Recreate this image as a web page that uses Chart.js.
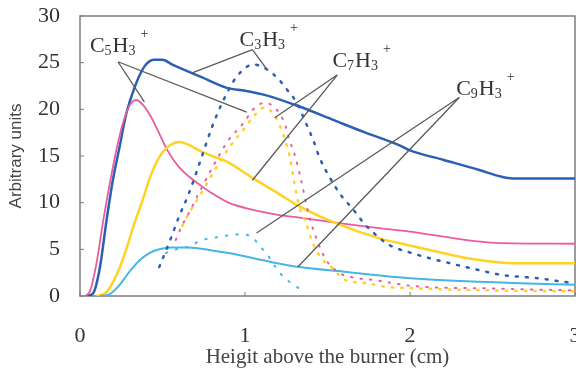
<!DOCTYPE html>
<html>
<head>
<meta charset="utf-8">
<script src="https://cdn.jsdelivr.net/npm/chart.js@4"></script>
<style>
  html, body { margin: 0; padding: 0; background: #fff; }
  #wrap { width: 576px; height: 376px; }
</style>
</head>
<body>
<div id="wrap"><canvas id="chart"></canvas></div>
<script>
// Ion signal vs height above burner, [x (cm), y (arb. units)]
const c5Solid = [
  [0.04, 0], [0.08, 0.3], [0.12, 3], [0.16, 8], [0.2, 12.5], [0.24, 16], [0.28, 19.5],
  [0.32, 21.8], [0.36, 23.6], [0.4, 24.8], [0.45, 25.3], [0.5, 25.3], [0.56, 24.8],
  [0.65, 24.1], [0.73, 23.5], [0.89, 22.3], [1.0, 22], [1.13, 21.5], [1.33, 20.3],
  [1.53, 18.9], [1.73, 17.5], [1.93, 16.2], [2.0, 15.6], [2.2, 14.6], [2.42, 13.5],
  [2.55, 12.8], [2.62, 12.6], [3.0, 12.6],
];
const pinkSolid = [
  [0.03, 0], [0.06, 0.5], [0.1, 3.5], [0.14, 8], [0.18, 12], [0.22, 15.6], [0.26, 18.5],
  [0.3, 20.4], [0.34, 21], [0.38, 20.5], [0.43, 19.2], [0.47, 17.8], [0.53, 15.6],
  [0.6, 13.8], [0.66, 12.8], [0.72, 12], [0.8, 11], [0.9, 10], [1.03, 9.3], [1.2, 8.7],
  [1.33, 8.4], [1.57, 7.8], [1.8, 7.3], [2.0, 6.9], [2.3, 6.1], [2.52, 5.7], [3.0, 5.6],
];
const yellowSolid = [
  [0.1, 0], [0.16, 0.4], [0.2, 1.5], [0.24, 3], [0.28, 5], [0.33, 7.8], [0.38, 10.3],
  [0.42, 12.5], [0.46, 14.2], [0.5, 15.4], [0.55, 16.2], [0.6, 16.5], [0.66, 16.2],
  [0.72, 15.6], [0.8, 15], [0.89, 14.4], [1.05, 12.6], [1.2, 11], [1.33, 9.6],
  [1.55, 7.8], [1.81, 6.2], [2.0, 5.4], [2.2, 4.6], [2.4, 3.9], [2.62, 3.5], [3.0, 3.5],
];
const cyanSolid = [
  [0.12, 0], [0.18, 0.2], [0.24, 1.2], [0.3, 2.6], [0.36, 3.8], [0.42, 4.6], [0.48, 5.0],
  [0.55, 5.2], [0.65, 5.2], [0.72, 5.1], [0.9, 4.6], [1.17, 3.6], [1.33, 3.1], [1.6, 2.6],
  [1.93, 2.0], [2.0, 1.9], [2.3, 1.6], [2.62, 1.4], [3.0, 1.2],
];
const blueDotted = [
  [0.48, 3.1], [0.54, 5.7], [0.6, 8.5], [0.66, 11], [0.73, 14.5], [0.8, 18.1], [0.87, 21],
  [0.95, 23.5], [1.05, 24.8], [1.14, 24.2], [1.21, 23.1], [1.26, 22], [1.31, 20.8],
  [1.37, 18.5], [1.42, 16.4], [1.45, 14.9], [1.51, 12.8], [1.59, 10.6], [1.65, 9.4],
  [1.73, 7.6], [1.81, 6.3], [1.87, 5.5], [2.01, 4.6], [2.11, 4.1], [2.34, 3.1],
  [2.56, 2.25], [2.78, 1.9], [2.94, 1.5], [3.0, 1.4],
];
const pinkDotted = [
  [0.58, 6], [0.62, 7.6], [0.66, 8.9], [0.72, 11], [0.8, 13.7], [0.9, 16.7], [0.99, 18.5],
  [1.05, 20], [1.12, 20.7], [1.19, 20], [1.24, 18.5], [1.27, 16.7], [1.31, 14.6],
  [1.34, 12.4], [1.39, 8.5], [1.43, 6.3], [1.49, 3.9], [1.57, 2.5], [1.65, 2], [1.79, 1.7],
  [2.0, 1.1], [2.5, 0.8], [3.0, 0.6],
];
const yellowDotted = [
  [0.62, 7.5], [0.66, 8.9], [0.7, 10], [0.8, 13], [0.9, 15.8], [0.99, 17.8], [1.06, 19.4],
  [1.12, 20.2], [1.18, 19.3], [1.23, 17.4], [1.27, 15], [1.3, 12], [1.33, 9.5],
  [1.37, 7.8], [1.41, 5.7], [1.47, 3.9], [1.53, 3], [1.61, 1.7], [1.73, 1.4], [1.85, 1.0],
  [2.0, 0.85], [2.5, 0.6], [3.0, 0.5],
];
const cyanDotted = [
  [0.52, 4.6], [0.6, 5.1], [0.66, 5.3], [0.74, 6], [0.8, 6.2], [0.9, 6.5], [0.99, 6.6],
  [1.05, 6.2], [1.09, 5.3], [1.13, 4.6], [1.17, 3.5], [1.21, 2.5], [1.27, 1.5],
  [1.32, 0.9], [1.36, 0.3],
];

const xTicks = [0, 1, 2, 3];
const yTicks = [0, 5, 10, 15, 20, 25, 30];

// label text anchor (data units) and leader line targets
const labels = [
  { n: "5", at: [0.06, 26.1], hub: [0.23, 25.1], to: [[0.39, 20.8], [1.01, 19.7]] },
  { n: "3", at: [0.967, 26.8], hub: [1.045, 26.4], to: [[0.68, 23.9], [1.136, 24.2]] },
  { n: "7", at: [1.53, 24.5], hub: [1.56, 23.7], to: [[1.18, 19.1], [1.045, 12.4]] },
  { n: "9", at: [2.28, 21.5], hub: [2.3, 21.3], to: [[1.07, 6.75], [1.32, 3.1]] },
];

const BLUE = "#2b5fb4";
const PINK = "#ea5c9e";
const YELLOW = "#ffd224";
const CYAN = "#45b6e6";

function pts(arr) {
  return arr.map((p) => ({ x: p[0], y: p[1] }));
}

function line(data, color, width, dash) {
  return {
    data: pts(data),
    borderColor: color,
    borderWidth: width,
    borderDash: dash || [],
    borderCapStyle: dash ? "round" : "butt",
    pointRadius: 0,
    fill: false,
    cubicInterpolationMode: "monotone",
  };
}

const framePlugin = {
  id: "frame",
  beforeDatasetsDraw(chart) {
    const { ctx, chartArea: a, scales } = chart;
    ctx.save();
    ctx.strokeStyle = "#7c7c7c";
    ctx.lineWidth = 1.5;
    ctx.strokeRect(a.left, a.top, a.right - a.left, a.bottom - a.top);
    ctx.lineWidth = 1;
    ctx.beginPath();
    yTicks.forEach((v) => {
      const py = scales.y.getPixelForValue(v);
      ctx.moveTo(a.left, py);
      ctx.lineTo(a.left + 4, py);
    });
    xTicks.forEach((v) => {
      const px = scales.x.getPixelForValue(v);
      ctx.moveTo(px, a.bottom);
      ctx.lineTo(px, a.bottom - 4);
    });
    ctx.stroke();
    ctx.restore();
  },
};

function drawFormula(ctx, x, y, n) {
  const big = "22px 'Liberation Serif', serif";
  const small = "14px 'Liberation Serif', serif";
  ctx.fillStyle = "#333";
  ctx.textBaseline = "alphabetic";
  ctx.textAlign = "left";
  ctx.font = big;
  ctx.fillText("C", x, y);
  x += ctx.measureText("C").width;
  ctx.font = small;
  ctx.fillText(n, x, y + 3);
  x += ctx.measureText(n).width + 1;
  ctx.font = big;
  ctx.fillText("H", x, y);
  x += ctx.measureText("H").width;
  ctx.font = small;
  ctx.fillText("3", x, y + 3);
  x += ctx.measureText("3").width + 5;
  ctx.fillText("+", x, y - 14);
}

const notePlugin = {
  id: "notes",
  afterDatasetsDraw(chart) {
    const { ctx, scales } = chart;
    const X = (v) => scales.x.getPixelForValue(v);
    const Y = (v) => scales.y.getPixelForValue(v);
    ctx.save();
    ctx.strokeStyle = "#5a5a5a";
    ctx.lineWidth = 1.3;
    labels.forEach((l) => {
      ctx.beginPath();
      l.to.forEach((t) => {
        ctx.moveTo(X(l.hub[0]), Y(l.hub[1]));
        ctx.lineTo(X(t[0]), Y(t[1]));
      });
      ctx.stroke();
      drawFormula(ctx, X(l.at[0]), Y(l.at[1]), l.n);
    });
    ctx.restore();
  },
};

new Chart(document.getElementById("chart").getContext("2d"), {
  type: "line",
  data: {
    datasets: [
      line(pinkDotted, PINK, 2, [1.5, 8]),
      line(yellowDotted, YELLOW, 2.5, [1.5, 8]),
      line(cyanDotted, CYAN, 2, [1.5, 9]),
      line(blueDotted, BLUE, 2.5, [2, 8]),
      line(cyanSolid, CYAN, 2),
      line(yellowSolid, YELLOW, 2.5),
      line(pinkSolid, PINK, 1.8),
      line(c5Solid, BLUE, 2.5),
    ],
  },
  options: {
    responsive: true,
    maintainAspectRatio: false,
    animation: false,
    layout: { padding: { top: 16, right: 1, left: 0, bottom: 0 } },
    plugins: {
      legend: { display: false },
      tooltip: { enabled: false },
    },
    scales: {
      x: {
        type: "linear",
        min: 0,
        max: 3,
        afterBuildTicks: (s) => { s.ticks = xTicks.map((v) => ({ value: v })); },
        ticks: {
          color: "#333",
          padding: 27,
          maxRotation: 0,
          font: { family: "'Liberation Serif', serif", size: 22 },
        },
        grid: { display: false, drawTicks: false },
        border: { display: false },
        title: {
          display: true,
          text: "Heigit above the burner (cm)",
          color: "#444",
          padding: { top: 0, bottom: 6 },
          font: { family: "'Liberation Serif', serif", size: 21 },
        },
        afterFit: (s) => { s.height = 80; s.paddingLeft = 0; s.paddingRight = 0; },
      },
      y: {
        min: 0,
        max: 30,
        afterBuildTicks: (s) => { s.ticks = yTicks.map((v) => ({ value: v })); },
        ticks: {
          color: "#333",
          padding: 20,
          font: { family: "'Liberation Serif', serif", size: 22 },
        },
        grid: { display: false, drawTicks: false },
        border: { display: false },
        title: {
          display: true,
          text: "Arbitrary units",
          color: "#444",
          padding: { top: 6, bottom: 0 },
          font: { family: "'Liberation Sans', sans-serif", size: 17 },
        },
        afterFit: (s) => { s.width = 80; s.paddingTop = 0; s.paddingBottom = 0; },
      },
    },
  },
  plugins: [framePlugin, notePlugin],
});
</script>
</body>
</html>
